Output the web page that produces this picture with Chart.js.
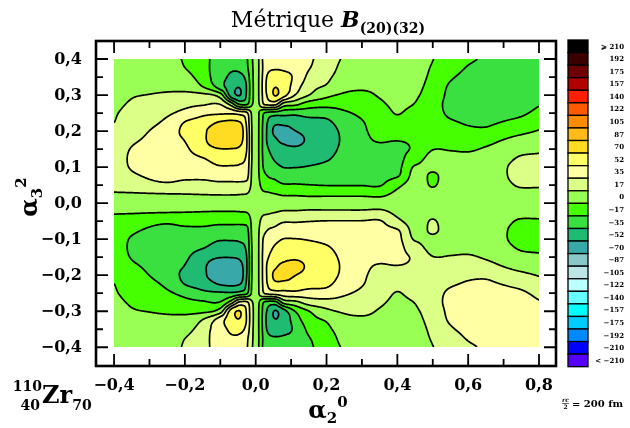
<!DOCTYPE html>
<html>
<head>
<meta charset="utf-8">
<script src="https://cdn.jsdelivr.net/npm/chart.js@4.4.0/dist/chart.umd.min.js"></script>
<style>
html, body { margin: 0; padding: 0; background: #fff; }
#boxChart { width: 630px; height: 428px; position: relative; }
</style>
</head>
<body>
<div id="boxChart"><canvas id="chartMetrique"></canvas></div>
<script>
const alpha20 = [-0.4, -0.35, -0.3, -0.25, -0.2, -0.15, -0.1, -0.07, -0.045, -0.025, -0.01, 0.005, 0.02, 0.035, 0.055, 0.08, 0.11, 0.15, 0.2, 0.25, 0.3, 0.35, 0.4, 0.45, 0.5, 0.55, 0.6, 0.65, 0.7, 0.75, 0.8];
const alpha32 = [0.4, 0.375, 0.35, 0.325, 0.3, 0.275, 0.25, 0.225, 0.2, 0.175, 0.15, 0.125, 0.1, 0.075, 0.05, 0.025, 0, -0.025, -0.05, -0.075, -0.1, -0.125, -0.15, -0.175, -0.2, -0.225, -0.25, -0.275, -0.3, -0.325, -0.35, -0.375, -0.4];

// one row per alpha32 value, one column per alpha20 value
const metrique = [
    [8, 8, 7.5, 6, -2, -13, -24, -30, -26, -19, -1, 12, 36, 42, 44, 45, 44, 38, 26, 16, 13, 10, 7, 4, 0.3, -6, -14, -20, -23, -24, -25],
    [9, 9.5, 9.5, 8, 0.2, -12, -26, -33, -31, -21, -2, 12, 35.3, 48, 51, 50, 47, 36, 25, 13, 10, 8, 6, 3.5, -1, -9, -19, -23, -25, -26, -27],
    [10, 11.5, 12, 11, 7, -9, -28, -38, -40, -28, -3, 12, 37, 56, 60, 58, 50, 31, 21, 10, 6, 5, 5, 3, -2.5, -15, -23, -26, -28, -28, -28],
    [11, 13.5, 14.5, 15, 14, -1, -27, -46, -51, -33, -4, 12, 38, 60, 69, 63, 45, 25, 16, 5, 2.5, 3, 4, 2.5, -4.5, -20, -25, -28, -30, -29, -28],
    [12.5, 16.5, 17.8, 19, 20, 21, 8, -42, -53, -32, -4, 12, 37, 57, 71, 58, 35.3, 17.8, 4, -2, -3, 1, 3, 1.5, -7, -22, -27, -29, -30, -28, -26],
    [14, 19, 21, 25, 30, 33, 34, 10, -20, -20, -1, 10, 33, 40, 40, 10, 5, -8, -11, -11, -9, -2, 2, -0.5, -11, -22, -26, -28, -28, -25, -19],
    [16, 22, 25, 32, 40, 48, 50, 50, 45, 38, 14, 5, -15, -22, -25, -28, -30, -27, -28, -20, -14, -6, 0.5, -5, -12, -20, -23, -25, -22, -20, -13],
    [17.3, 25, 30, 39, 52.8, 60, 71, 73, 70.3, 48, 15, 5, -18, -37, -48, -47, -45, -42, -38, -27, -18.5, -10, -3, -9, -12, -16, -19, -20, -17, -13, -6],
    [20, 28, 35.2, 45, 56, 67, 79, 80, 78, 52, 16, 5, -19, -40, -56, -58, -53, -48, -42, -31, -20, -13, -8, -12, -11, -12, -15, -15, -9, -4, 1],
    [23, 32, 38.5, 48, 53, 67, 79, 80, 76, 53, 16, 5, -19, -40, -50, -56, -57, -50, -43, -32, -21, -16.5, -17, -14.5, -7, -7, -9, -6, 0.5, 6, 9],
    [25, 36, 41, 48, 50, 63, 69.5, 69.5, 67, 52, 16, 5, -19, -34, -44, -48, -50, -47, -41, -31, -22, -20, -20, -15, -0.5, -1, -2, 2, 8, 13, 15],
    [26, 37.5, 42, 47, 47, 52, 60, 60, 58, 48, 16, 5, -18, -28, -38, -42, -43, -41, -37, -29, -24, -22, -22, -7, 4, 4, 4, 8, 13, 19, 20],
    [26, 36.5, 41, 45, 43, 45, 51, 51, 50, 44, 15, 5, -17, -22, -30, -35.5, -35.5, -34, -31, -27, -23, -22, -21, 1.5, 3, 6, 7, 10, 16, 22, 23],
    [25, 32, 37, 40, 38, 38, 41, 41, 41, 39, 14, 5, -12, -18, -21, -26, -26, -26, -25, -24, -21, -21, -18.5, 6, -2, 7, 8, 10, 16, 22, 23],
    [22, 26, 30, 32, 30, 30, 31, 31, 31, 30, 13, 6, -5, -8, -12, -16, -16, -17, -18, -18, -18, -18.5, -4, 7, -1, 8, 8.5, 9.5, 14, 19, 19],
    [16, 16, 16.5, 17, 17.4, 18, 18.5, 18.5, 18, 17, 11, 7.5, 3, 2, 0.3, -2, -2, -3, -3, -3, -3, -4, 4, 8, 5, 8.5, 8.5, 9, 11, 13, 13],
    [8.8, 8.8, 8.8, 8.8, 8.8, 8.8, 8.8, 8.8, 8.8, 8.8, 8.8, 8.8, 8.8, 8.8, 8.8, 8.8, 8.8, 8.8, 8.8, 8.8, 8.8, 8.8, 8.8, 8.8, 8.8, 8.8, 8.8, 8.8, 8.8, 8.8, 8.8],
    [1.5, 1.5, 1, 0.5, 0.1, -0.5, -1, -1, -0.5, 0.5, 6.5, 10, 14.5, 15.5, 17.2, 19.5, 19.5, 20.5, 20.5, 20.5, 20.5, 21.5, 13.5, 9.5, 12.5, 9, 9, 8.5, 6.5, 4.5, 4.5],
    [-4.5, -8.5, -12.5, -14.5, -12.5, -12.5, -13.5, -13.5, -13.5, -12.5, 4.5, 11.5, 22.5, 25.5, 29.5, 33.5, 33.5, 34.5, 35.5, 35.5, 35.5, 36, 21.5, 10.5, 18.5, 9.5, 9, 8, 3.5, -1.5, -1.5],
    [-7.5, -14.5, -19.5, -22.5, -20.5, -20.5, -23.5, -23.5, -23.5, -21.5, 3.5, 12.5, 29.5, 35.5, 38.5, 43.5, 43.5, 43.5, 42.5, 41.5, 38.5, 38.5, 36, 11.5, 19.5, 10.5, 9.5, 7.5, 1.5, -4.5, -5.5],
    [-8.5, -19, -23.5, -27.5, -25.5, -27.5, -33.5, -33.5, -32.5, -26.5, 2.5, 12.5, 34.5, 39.5, 47.5, 53, 53, 51.5, 48.5, 44.5, 40.5, 39.5, 38.5, 16, 14.5, 11.5, 10.5, 7.5, 1.5, -4.5, -5.5],
    [-8.5, -20, -24.5, -29.5, -29.5, -34.5, -42.5, -42.5, -40.5, -30.5, 1.5, 12.5, 35.5, 45.5, 55.5, 59.5, 60.5, 58.5, 54.5, 46.5, 41.5, 39.5, 39.5, 24.5, 13.5, 13.5, 13.5, 9.5, 4.5, -1.5, -2.5],
    [-7.5, -18.5, -23.5, -30.5, -32.5, -45.5, -52, -52, -49.5, -34.5, 1.5, 12.5, 36.5, 51.5, 61.5, 65.5, 67.5, 64.5, 58.5, 48.5, 39.5, 37.5, 37.5, 32.5, 18, 18.5, 19.5, 15.5, 9.5, 4.5, 2.5],
    [-5.5, -14.5, -21, -30.5, -35.5, -49.5, -61.5, -62.5, -58.5, -35.5, 1.5, 12.5, 36.5, 57.5, 67.5, 73.5, 74.5, 67.5, 60.5, 49.5, 38.5, 34, 34.5, 32, 24.5, 24.5, 26.5, 23.5, 17, 11.5, 8.5],
    [-2.5, -10.5, -17.7, -27.5, -38.5, -49.5, -61.5, -62.5, -60.5, -34.5, 1.5, 12.5, 36.5, 57.5, 73.5, 75.5, 70.5, 65.5, 59.5, 48.5, 37.5, 30.5, 25.5, 29.5, 28.5, 29.5, 32.5, 32.5, 26.5, 21.5, 16.5],
    [0.2, -7.5, -12.5, -21.5, -35.3, -42.5, -53.5, -55.5, -52.8, -30.5, 2.5, 12.5, 35.5, 54.5, 65.5, 64.5, 62.5, 59.5, 55.5, 44.5, 36, 27.5, 20.5, 26.5, 29.5, 33.5, 36.5, 37.5, 34.5, 30.5, 23.5],
    [1.5, -4.5, -7.5, -14.5, -22.5, -30.5, -32.5, -32.5, -27.5, -20.5, 3.5, 12.5, 32.5, 39.5, 42.5, 45.5, 47.5, 44.5, 45.5, 37.5, 31.5, 23.5, 17, 22.5, 29.5, 37.5, 40.5, 42.5, 39.5, 37.5, 30.5],
    [3.5, -1.5, -3.5, -7.5, -12.5, -15.5, -16.5, 7.5, 37.5, 37.5, 18.5, 7.5, -15.5, -22.5, -22.5, 7.5, 12.5, 25.5, 28.5, 28.5, 26.5, 19.5, 15.5, 18, 28.5, 39.5, 43.5, 45.5, 45.5, 42.5, 36.5],
    [5, 1, -0.3, -1.5, -2.5, -3.5, 9.5, 59.5, 70.5, 49.5, 21.5, 5.5, -19.5, -39.5, -53.5, -40.5, -17.8, -0.3, 13.5, 19.5, 20.5, 16.5, 14.5, 16, 24.5, 39.5, 44.5, 46.5, 47.5, 45.5, 43.5],
    [6.5, 4, 3, 2.5, 3.5, 18.5, 44.5, 63.5, 68.5, 50.5, 21.5, 5.5, -20.5, -42.5, -51.5, -45.5, -27.5, -7.5, 1.5, 12.5, 15, 14.5, 13.5, 15, 22, 37.5, 42.5, 45.5, 47.5, 46.5, 45.5],
    [7.5, 6, 5.5, 6.5, 10.5, 26.5, 45.5, 55.5, 57.5, 45.5, 20.5, 5.5, -19.5, -38.5, -42.5, -40.5, -32.5, -13.5, -3.5, 7.5, 11.5, 12.5, 12.5, 14.5, 20, 32.5, 40.5, 43.5, 45.5, 45.5, 45.5],
    [8.5, 8, 8, 9.5, 17.3, 29.5, 43.5, 50.5, 48.5, 38.5, 19.5, 5.5, -17.8, -30.5, -33.5, -32.5, -29.5, -18.5, -7.5, 4.5, 7.5, 9.5, 11.5, 14, 18.5, 26.5, 36.5, 40.5, 42.5, 43.5, 44.5],
    [9.5, 9.5, 10, 11.5, 19.5, 30.5, 41.5, 47.5, 43.5, 36.5, 18.5, 5.5, -18.5, -24.5, -26.5, -27.5, -26.5, -20.5, -8.5, 1.5, 4.5, 7.5, 10.5, 13.5, 17.2, 23.5, 31.5, 37.5, 40.5, 41.5, 42.5]
];

const levelBounds = [210, 192.5, 175, 157.5, 140, 122.5, 105, 87.5, 70, 52.5, 35, 17.5, 0, -17.5, -35, -52.5, -70, -87.5, -105, -122.5, -140, -157.5, -175, -192.5, -210];
const levelLabels = ['⩾ 210', '192', '175', '157', '140', '122', '105', '87', '70', '52', '35', '17', '0', '−17', '−35', '−52', '−70', '−87', '−105', '−122', '−140', '−157', '−175', '−192', '−210', '< −210'];
const levelColors = ['#000000', '#3a0000', '#6e0000', '#b00000', '#ff1e00', '#ff5a00', '#ff8c00', '#ffbb1a', '#ffdb22', '#ffff66', '#ffffa4', '#dcff88', '#99ff55', '#46ff00', '#3ae040', '#20bb72', '#38a8a8', '#88c8c8', '#bce6e6', '#bbffff', '#66ffff', '#00ffff', '#00ccff', '#0088ff', '#0000ff', '#5500ff'];

const xTickValues = [-0.4, -0.3, -0.2, -0.1, 0, 0.1, 0.2, 0.3, 0.4, 0.5, 0.6, 0.7, 0.8];
const xTickLabels = ['−0,4', '', '−0,2', '', '0,0', '', '0,2', '', '0,4', '', '0,6', '', '0,8'];
const yTickValues = [0.4, 0.35, 0.3, 0.25, 0.2, 0.15, 0.1, 0.05, 0, -0.05, -0.1, -0.15, -0.2, -0.25, -0.3, -0.35, -0.4];
const yTickLabels = ['0,4', '', '0,3', '', '0,2', '', '0,1', '', '0,0', '', '−0,1', '', '−0,2', '', '−0,3', '', '−0,4'];

const SERIF = '"DejaVu Serif", "Liberation Serif", serif';

function hexToRgb(h) {
    return [parseInt(h.slice(1, 3), 16), parseInt(h.slice(3, 5), 16), parseInt(h.slice(5, 7), 16)];
}
const rgbColors = levelColors.map(hexToRgb);

function binOf(v) {
    let k = 0;
    while (k < levelBounds.length && v < levelBounds[k]) k++;
    return k;
}

// cubic hermite slopes: centred, limited only where the data is monotone
function slopes(xs, ys) {
    const n = xs.length, d = [], m = new Array(n);
    for (let i = 0; i < n - 1; i++) d.push((ys[i + 1] - ys[i]) / (xs[i + 1] - xs[i]));
    m[0] = d[0];
    m[n - 1] = d[n - 2];
    for (let i = 1; i < n - 1; i++) {
        const h0 = xs[i] - xs[i - 1], h1 = xs[i + 1] - xs[i];
        let s = (h1 * d[i - 1] + h0 * d[i]) / (h0 + h1);
        if (d[i - 1] * d[i] > 0) {
            const lim = 3 * Math.min(Math.abs(d[i - 1]), Math.abs(d[i]));
            if (Math.abs(s) > lim) s = Math.sign(s) * lim;
        } else {
            s *= 0.6;
        }
        m[i] = s;
    }
    return m;
}

function hermite(xs, ys, m, t) {
    let lo = 0, hi = xs.length - 1;
    if (t <= xs[0]) return ys[0];
    if (t >= xs[hi]) return ys[hi];
    while (hi - lo > 1) {
        const mid = (lo + hi) >> 1;
        if (xs[mid] <= t) lo = mid; else hi = mid;
    }
    const h = xs[hi] - xs[lo], s = (t - xs[lo]) / h, s2 = s * s, s3 = s2 * s;
    return (2 * s3 - 3 * s2 + 1) * ys[lo] + (s3 - 2 * s2 + s) * h * m[lo] + (-2 * s3 + 3 * s2) * ys[hi] + (s3 - s2) * h * m[hi];
}

function sampleField(sx, sy, left, top, W, H) {
    const grid = new Float32Array(W * H);
    const ny = alpha32.length;
    const yAsc = alpha32.slice().reverse();
    const rowSlopes = metrique.map(r => slopes(alpha20, r));
    const col = new Array(ny);
    const ays = [];
    for (let k = 0; k < H; k++) ays.push(sy.getValueForPixel(top + k + 0.5));
    for (let i = 0; i < W; i++) {
        const ax = sx.getValueForPixel(left + i + 0.5);
        for (let j = 0; j < ny; j++) col[ny - 1 - j] = hermite(alpha20, metrique[j], rowSlopes[j], ax);
        const ms = slopes(yAsc, col);
        for (let k = 0; k < H; k++) grid[k * W + i] = hermite(yAsc, col, ms, ays[k]);
    }
    return grid;
}

function marching(g, W, H, L, ox, oy, ctx) {
    for (let k = 0; k < H - 1; k++) {
        for (let i = 0; i < W - 1; i++) {
            const a = g[k * W + i], b = g[k * W + i + 1], c = g[(k + 1) * W + i + 1], d = g[(k + 1) * W + i];
            const sa = a >= L, sb = b >= L, sc = c >= L, sd = d >= L;
            if (sa === sb && sb === sc && sc === sd) continue;
            const p = [];
            if (sa !== sb) p.push(ox + i + (L - a) / (b - a), oy + k);
            if (sb !== sc) p.push(ox + i + 1, oy + k + (L - b) / (c - b));
            if (sd !== sc) p.push(ox + i + (L - d) / (c - d), oy + k + 1);
            if (sa !== sd) p.push(ox + i, oy + k + (L - a) / (d - a));
            ctx.moveTo(p[0], p[1]);
            ctx.lineTo(p[2], p[3]);
            if (p.length === 8) {
                ctx.moveTo(p[4], p[5]);
                ctx.lineTo(p[6], p[7]);
            }
        }
    }
}

const fieldPlugin = {
    id: 'field',
    beforeDatasetsDraw(chart) {
        const { ctx, scales } = chart;
        const sx = scales.x, sy = scales.y;
        const left = Math.round(sx.getPixelForValue(alpha20[0]));
        const right = Math.round(sx.getPixelForValue(alpha20[alpha20.length - 1]));
        const top = Math.round(sy.getPixelForValue(alpha32[0]));
        const bottom = Math.round(sy.getPixelForValue(alpha32[alpha32.length - 1]));
        const W = right - left, H = bottom - top;
        const grid = sampleField(sx, sy, left, top, W, H);

        const off = document.createElement('canvas');
        off.width = W;
        off.height = H;
        const octx = off.getContext('2d');
        const img = octx.createImageData(W, H);
        for (let p = 0; p < W * H; p++) {
            const c = rgbColors[binOf(grid[p])];
            img.data[p * 4] = c[0];
            img.data[p * 4 + 1] = c[1];
            img.data[p * 4 + 2] = c[2];
            img.data[p * 4 + 3] = 255;
        }
        octx.putImageData(img, 0, 0);
        ctx.drawImage(off, left, top);

        ctx.save();
        ctx.beginPath();
        ctx.rect(left, top, W, H);
        ctx.clip();
        ctx.strokeStyle = '#000';
        ctx.lineWidth = 1.7;
        ctx.lineCap = 'round';
        ctx.lineJoin = 'round';
        ctx.beginPath();
        levelBounds.forEach(L => marching(grid, W, H, L, left + 0.5, top + 0.5, ctx));
        ctx.stroke();
        ctx.restore();
    }
};

function runs(ctx, parts, x, y) {
    let cx = x;
    parts.forEach(([t, f, dy]) => {
        ctx.font = f;
        ctx.fillText(t, cx, y + dy);
        cx += ctx.measureText(t).width;
    });
    return cx - x;
}

function runsWidth(ctx, parts) {
    let w = 0;
    parts.forEach(([t, f]) => { ctx.font = f; w += ctx.measureText(t).width; });
    return w;
}

const framePlugin = {
    id: 'frame',
    afterDraw(chart) {
        const { ctx, chartArea: ca, scales } = chart;
        const sx = scales.x, sy = scales.y;
        ctx.save();
        ctx.fillStyle = '#000';
        ctx.strokeStyle = '#000';

        ctx.lineWidth = 1.8;
        ctx.beginPath();
        xTickValues.forEach((v, i) => {
            const px = sx.getPixelForValue(v);
            const len = xTickLabels[i] ? 12 : 7;
            ctx.moveTo(px, ca.top); ctx.lineTo(px, ca.top + len);
            ctx.moveTo(px, ca.bottom); ctx.lineTo(px, ca.bottom - len);
        });
        yTickValues.forEach((v, i) => {
            const py = sy.getPixelForValue(v);
            const len = yTickLabels[i] ? 12 : 7;
            ctx.moveTo(ca.left, py); ctx.lineTo(ca.left + len, py);
            ctx.moveTo(ca.right, py); ctx.lineTo(ca.right - len, py);
        });
        ctx.stroke();
        ctx.lineWidth = 2.6;
        ctx.strokeRect(ca.left, ca.top, ca.right - ca.left, ca.bottom - ca.top);

        ctx.font = 'bold 16px ' + SERIF;
        ctx.textAlign = 'center';
        ctx.textBaseline = 'alphabetic';
        xTickValues.forEach((v, i) => {
            if (xTickLabels[i]) ctx.fillText(xTickLabels[i], sx.getPixelForValue(v), 390);
        });
        ctx.textAlign = 'right';
        ctx.textBaseline = 'middle';
        yTickValues.forEach((v, i) => {
            if (yTickLabels[i]) ctx.fillText(yTickLabels[i], 82, sy.getPixelForValue(v) + 1);
        });

        ctx.textAlign = 'left';
        ctx.textBaseline = 'alphabetic';
        const title = [['Métrique ', '22px ' + SERIF, 0], ['B', 'italic bold 22px ' + SERIF, 0], ['(20)(32)', 'bold 14px ' + SERIF, 6]];
        runs(ctx, title, 328 - runsWidth(ctx, title) / 2, 27);

        const xTitle = [['α', 'bold 24px ' + SERIF, 0], ['2', 'bold 15px ' + SERIF, 5], ['0', 'bold 15px ' + SERIF, -11]];
        runs(ctx, xTitle, 328 - runsWidth(ctx, xTitle) / 2, 418);

        const yTitle = [['α', 'bold 24px ' + SERIF, 0], ['3', 'bold 15px ' + SERIF, 5], ['2', 'bold 15px ' + SERIF, -11]];
        ctx.save();
        ctx.translate(37, 197);
        ctx.rotate(-Math.PI / 2);
        runs(ctx, yTitle, -runsWidth(ctx, yTitle) / 2, 0);
        ctx.restore();

        ctx.font = 'bold 24px ' + SERIF;
        ctx.fillText('Zr', 42, 403);
        const zrW = ctx.measureText('Zr').width;
        ctx.font = 'bold 14px ' + SERIF;
        ctx.fillText('70', 42 + zrW, 410);
        ctx.textAlign = 'right';
        ctx.fillText('110', 42, 391);
        ctx.fillText('40', 40, 410);

        ctx.textAlign = 'center';
        ctx.font = 'italic bold 6px ' + SERIF;
        ctx.fillText('rc', 565.5, 402);
        ctx.font = 'bold 6px ' + SERIF;
        ctx.fillText('2', 565.5, 409);
        ctx.lineWidth = 0.6;
        ctx.beginPath();
        ctx.moveTo(562, 403.5); ctx.lineTo(569, 403.5);
        ctx.stroke();
        ctx.textAlign = 'left';
        ctx.font = 'bold 10px ' + SERIF;
        ctx.fillText('= 200 fm', 572, 407);

        const bx = 568, bw = 20, btop = 40, bh = (366.7 - 40) / levelColors.length;
        ctx.lineWidth = 1.3;
        ctx.font = 'bold 7px ' + SERIF;
        ctx.textAlign = 'right';
        ctx.textBaseline = 'middle';
        levelColors.forEach((c, i) => {
            const y0 = btop + i * bh;
            ctx.fillStyle = c;
            ctx.fillRect(bx, y0, bw, bh);
            ctx.strokeRect(bx, y0, bw, bh);
            ctx.fillStyle = '#000';
            ctx.fillText(levelLabels[i], 624, y0 + bh / 2 + 0.5);
        });
        ctx.restore();
    }
};

const nodes = [];
alpha32.forEach((a3, j) => alpha20.forEach((a2, i) => nodes.push({ x: a2, y: a3, v: metrique[j][i] })));

const chartMetrique = new Chart(document.getElementById('chartMetrique'), {
    type: 'scatter',
    data: {
        datasets: [{ data: nodes, pointRadius: 0, pointHoverRadius: 0 }]
    },
    options: {
        responsive: true,
        maintainAspectRatio: false,
        animation: false,
        events: [],
        layout: { padding: { left: 96, top: 41, right: 74, bottom: 62 } },
        plugins: { legend: { display: false }, tooltip: { enabled: false } },
        scales: {
            x: { type: 'linear', min: -0.451, max: 0.848, display: false },
            y: { type: 'linear', min: -0.452, max: 0.45, display: false }
        }
    },
    plugins: [fieldPlugin, framePlugin]
});
</script>
</body>
</html>
